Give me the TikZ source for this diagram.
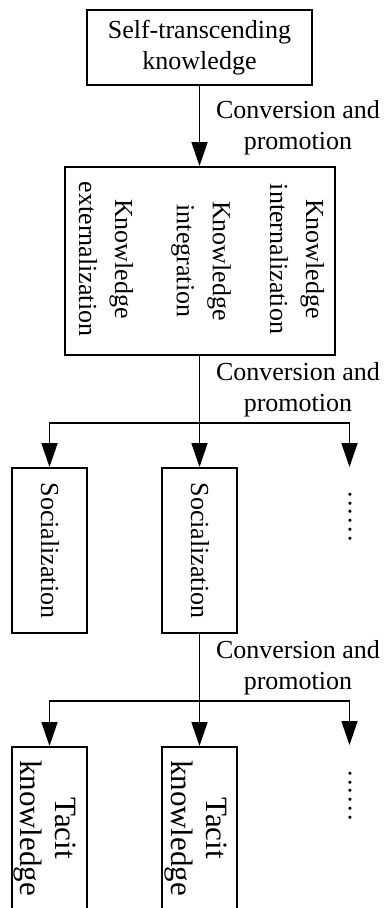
\documentclass[tikz,border=0pt]{standalone}
\usepackage{fontspec}
\setmainfont{Liberation Serif}
\usetikzlibrary{arrows.meta}
\begin{document}
\begin{tikzpicture}[x=1pt,y=-1pt,
  box/.style={draw, line width=2pt, inner sep=0pt},
  txt/.style={font=\fontsize{26}{31}\selectfont, align=center, inner sep=0pt},
  vtxt/.style={font=\fontsize{26}{36}\selectfont, align=center, inner sep=0pt, rotate=-90},
  ttxt/.style={font=\fontsize{31}{35}\selectfont, align=center, inner sep=0pt, rotate=-90},
  conn/.style={line width=1.8pt, -{Triangle[length=24pt,width=16pt]}}]
\useasboundingbox (0,0) rectangle (385,908);

% top box
\node[box, txt, minimum width=225pt, minimum height=75pt] (top) at (199.5,47.5) {Self-transcending\\knowledge};

% middle box
\node[box, minimum width=270pt, minimum height=188pt] (mid) at (199.5,261) {};
\node[vtxt] (int) at (297,259) {Knowledge\\internalization};
\node[vtxt] (itg) at (201,261) {Knowledge\\integration};
\node[vtxt] (ext) at (106,259) {Knowledge\\externalization};

% socialization row
\node[box, minimum width=75pt, minimum height=165pt] (s1) at (49.5,550.5) {};
\node[box, minimum width=75pt, minimum height=165pt] (s2) at (199.5,550.5) {};
\node[vtxt] (s1t) at (50,550.5) {Socialization};
\node[vtxt] (s2t) at (200,550.5) {Socialization};
\node[txt, rotate=-90] (dots1) at (350,516.5) {.\kern2.2pt.\kern2.2pt.\kern2.2pt.\kern2.2pt.\kern2.2pt.};
\coordinate (d1) at (349.5,467);

% tacit row
\node[box, minimum width=75pt, minimum height=200pt, anchor=north] (t1) at (49.5,746) {};
\node[box, minimum width=75pt, minimum height=200pt, anchor=north] (t2) at (199.5,746) {};
\node[ttxt] (t1t) at (45,828) {Tacit\\knowledge};
\node[ttxt] (t2t) at (195.5,828) {Tacit\\knowledge};
\node[txt, rotate=-90] (dots2) at (350,795.5) {.\kern2.2pt.\kern2.2pt.\kern2.2pt.\kern2.2pt.\kern2.2pt.};
\coordinate (d2) at (349.5,745);

% labels
\node[txt] (l1) at (298,128) {Conversion and\\promotion};
\node[txt] (l2) at (298,389.5) {Conversion and\\promotion};
\node[txt] (l3) at (298,668) {Conversion and\\promotion};

% connectors
\draw[conn] (top.south) -- (mid.north);

\coordinate (b1) at (199.5,423);
\draw[conn] (mid.south) -- (s2.north);
\draw[conn] (b1) -| (s1.north);
\draw[conn] (b1) -| (d1);

\coordinate (b2) at (199.5,701);
\draw[conn] (s2.south) -- (t2.north);
\draw[conn] (b2) -| (t1.north);
\draw[conn] (b2) -| (d2);
\end{tikzpicture}
\end{document}
